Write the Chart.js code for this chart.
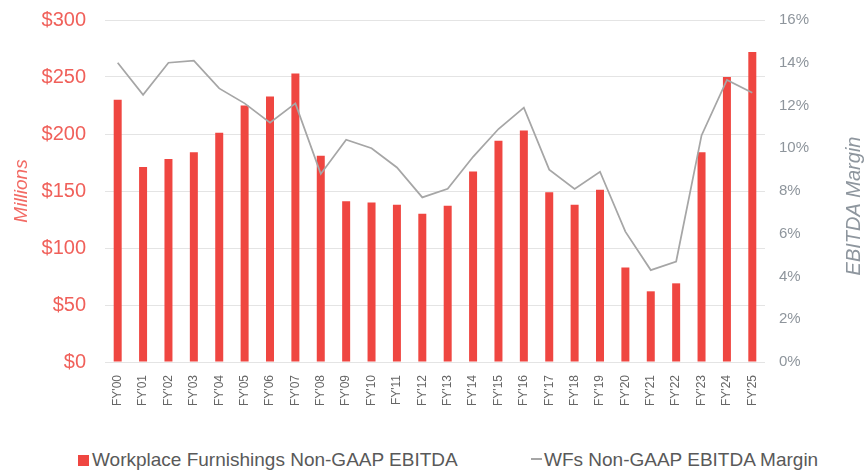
<!DOCTYPE html>
<html>
<head>
<meta charset="utf-8">
<script src="https://cdn.jsdelivr.net/npm/chart.js@4"></script>
<style>
html,body{margin:0;padding:0;background:#fff;}
#wrap{position:relative;width:866px;height:471px;overflow:hidden;}
#c{position:absolute;left:0;top:0;}
.leg{position:absolute;top:449px;font:19px "Liberation Sans",Arial,sans-serif;color:#595959;white-space:nowrap;line-height:22px;}
.leg .mk{position:absolute;}
</style>
</head>
<body>
<div id="wrap">
<canvas id="c" width="866" height="440"></canvas>
</div>
<script>
const categories = ["FY'00","FY'01","FY'02","FY'03","FY'04","FY'05","FY'06","FY'07","FY'08","FY'09","FY'10","FY'11","FY'12","FY'13","FY'14","FY'15","FY'16","FY'17","FY'18","FY'19","FY'20","FY'21","FY'22","FY'23","FY'24","FY'25"];
const ebitdaMillions = [230,171,178,184,201,225,233,253,181,141,140,138,130,137,167,194,203,149,138,151,83,62,69,184,250,272];
const marginPct = [14.0,12.5,14.0,14.1,12.8,12.1,11.2,12.1,8.8,10.4,10.0,9.1,7.7,8.1,9.6,10.9,11.9,9.0,8.1,8.9,6.1,4.3,4.7,10.6,13.2,12.6];
const leftTicks = [0,50,100,150,200,250,300];
const rightTicks = [0,2,4,6,8,10,12,14,16];
const barLabel = "Workplace Furnishings Non-GAAP EBITDA";
const lineLabel = "WFs Non-GAAP EBITDA Margin";
const leftTitle = "Millions";
const rightTitle = "EBITDA Margin";

const FONT = '"Liberation Sans", Arial, sans-serif';
const RED = '#EF4641';
const GRAY_LINE = '#A6A6A6';

const rightTitlePlugin = {
  id: 'rightTitle',
  afterDraw(chart) {
    const ctx = chart.ctx;
    ctx.save();
    ctx.translate(860, 206);
    ctx.rotate(-Math.PI / 2);
    ctx.font = 'italic 20px ' + FONT;
    ctx.fillStyle = '#8E969E';
    ctx.textAlign = 'center';
    ctx.textBaseline = 'alphabetic';
    ctx.fillText(rightTitle, 0, 0);
    ctx.restore();
  }
};

const chart = new Chart(document.getElementById('c'), {
  type: 'bar',
  data: {
    labels: categories,
    datasets: [
      {
        type: 'line',
        label: lineLabel,
        data: marginPct,
        yAxisID: 'y1',
        borderColor: GRAY_LINE,
        backgroundColor: GRAY_LINE,
        borderWidth: 1.75,
        pointRadius: 0,
        tension: 0,
        order: 0
      },
      {
        type: 'bar',
        label: barLabel,
        data: ebitdaMillions,
        yAxisID: 'y',
        backgroundColor: RED,
        borderWidth: 0,
        categoryPercentage: 1,
        barPercentage: 0.315,
        order: 1
      }
    ]
  },
  options: {
    responsive: false,
    animation: false,
    layout: { padding: { top: 20, left: 0, right: 0, bottom: 0 } },
    plugins: { legend: { display: false }, tooltip: { enabled: false } },
    scales: {
      x: {
        grid: { display: false, drawTicks: false },
        border: { display: false },
        ticks: {
          minRotation: 90, maxRotation: 90, autoSkip: false, padding: 13,
          color: '#666666', font: { family: FONT, size: 12 }
        },
        afterFit(s) { s.height = 78; s.paddingLeft = 0; s.paddingRight = 0; }
      },
      y: {
        position: 'left',
        min: 0, max: 300,
        afterBuildTicks(s) { s.ticks = leftTicks.map(v => ({ value: v })); },
        grid: { color: '#E4E4E4', lineWidth: 1, drawTicks: false },
        border: { display: false },
        ticks: {
          padding: 19, color: '#F0605A', font: { family: FONT, size: 20 },
          callback: v => '$' + v
        },
        title: {
          display: true, text: leftTitle, color: '#F26A64',
          font: { family: FONT, size: 19, style: 'italic' },
          padding: { top: 10, bottom: 0 }
        },
        afterFit(s) { s.width = 105; s.paddingTop = 0; s.paddingBottom = 0; }
      },
      y1: {
        position: 'right',
        min: 0, max: 16,
        afterBuildTicks(s) { s.ticks = rightTicks.map(v => ({ value: v })); },
        grid: { display: false, drawTicks: false },
        border: { display: false },
        ticks: {
          padding: 14, color: '#8E959C', font: { family: FONT, size: 15 },
          callback: v => v + '%'
        },
        afterFit(s) { s.width = 101; s.paddingTop = 0; s.paddingBottom = 0; }
      }
    }
  },
  plugins: [rightTitlePlugin]
});

// HTML legend built from the chart's datasets
const wrap = document.getElementById('wrap');
const legendItems = [
  { ds: chart.data.datasets[1], left: 78, kind: 'box' },
  { ds: chart.data.datasets[0], left: 531, kind: 'line' }
];
legendItems.forEach(it => {
  const d = document.createElement('div');
  d.className = 'leg';
  d.style.left = it.left + 'px';
  const mk = document.createElement('span');
  mk.className = 'mk';
  if (it.kind === 'box') {
    mk.style.cssText = 'left:0;top:6px;width:11px;height:11px;background:' + it.ds.backgroundColor;
    d.style.paddingLeft = '14px';
  } else {
    mk.style.cssText = 'left:0;top:9px;width:11px;height:2px;background:' + it.ds.borderColor;
    d.style.paddingLeft = '13px';
  }
  d.appendChild(mk);
  d.appendChild(document.createTextNode(it.ds.label));
  wrap.appendChild(d);
});
</script>
</body>
</html>
